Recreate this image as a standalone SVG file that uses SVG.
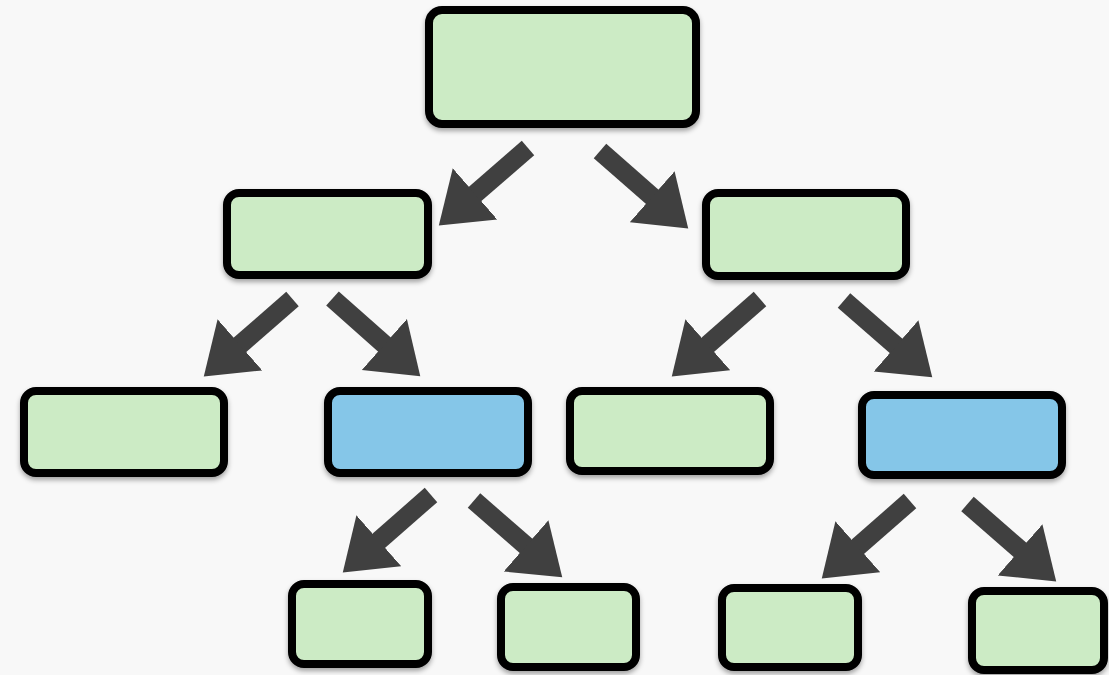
<svg xmlns="http://www.w3.org/2000/svg" width="1109" height="675" viewBox="0 0 1109 675">
  <style>
    .node rect { stroke: #000; stroke-width: 8; filter: url(#shadow); }
    .green rect { fill: #CCEBC5; }
    .blue rect { fill: #85C6E8; }
    .conn line { stroke: #404040; stroke-width: 19; stroke-linecap: butt; marker-end: url(#head); }
  </style>
  <defs>
    <filter id="shadow" x="-10%" y="-10%" width="120%" height="130%">
      <feDropShadow dx="0" dy="3" stdDeviation="2.5" flood-color="#000" flood-opacity="0.35"/>
    </filter>
    <marker id="head" markerUnits="userSpaceOnUse" markerWidth="50" markerHeight="70" viewBox="0 -35 50 70" refX="1" refY="0" orient="auto">
      <path d="M0,-34 L48,0 L0,34 Z" fill="#404040"/>
    </marker>
  </defs>
  <rect width="1109" height="675" fill="#F8F8F8"/>

  <g id="connectors" class="conn">
    <line x1="528" y1="148" x2="474.3" y2="194.6"/>
    <line x1="600" y1="151" x2="652.9" y2="197.4"/>
    <line x1="292.5" y1="299" x2="239.2" y2="345.5"/>
    <line x1="332.5" y1="298.5" x2="385.1" y2="345.1"/>
    <line x1="760" y1="299" x2="707.1" y2="345.4"/>
    <line x1="844" y1="300.5" x2="896.8" y2="346.5"/>
    <line x1="431" y1="495" x2="378.1" y2="541.4"/>
    <line x1="474" y1="500.5" x2="526.8" y2="546.5"/>
    <line x1="910" y1="501" x2="857.1" y2="547.4"/>
    <line x1="967.5" y1="504" x2="1020.8" y2="550.5"/>
  </g>

  <g id="root" class="node green"><rect x="429" y="10" width="267" height="114" rx="13"/></g>
  <g id="l1-left" class="node green"><rect x="227" y="193" width="201" height="82" rx="12"/></g>
  <g id="l1-right" class="node green"><rect x="706" y="193" width="200" height="83" rx="12"/></g>
  <g id="l2-a" class="node green"><rect x="24" y="391" width="200" height="82" rx="12"/></g>
  <g id="l2-b" class="node blue"><rect x="328" y="391" width="200" height="82" rx="12"/></g>
  <g id="l2-c" class="node green"><rect x="570" y="391" width="200" height="80" rx="12"/></g>
  <g id="l2-d" class="node blue"><rect x="862" y="395" width="200" height="80" rx="12"/></g>
  <g id="l3-a" class="node green"><rect x="292" y="584" width="136" height="80" rx="12"/></g>
  <g id="l3-b" class="node green"><rect x="501" y="587" width="135" height="80" rx="12"/></g>
  <g id="l3-c" class="node green"><rect x="722" y="588" width="136" height="79" rx="12"/></g>
  <g id="l3-d" class="node green"><rect x="972" y="591" width="132" height="79" rx="12"/></g>
</svg>
